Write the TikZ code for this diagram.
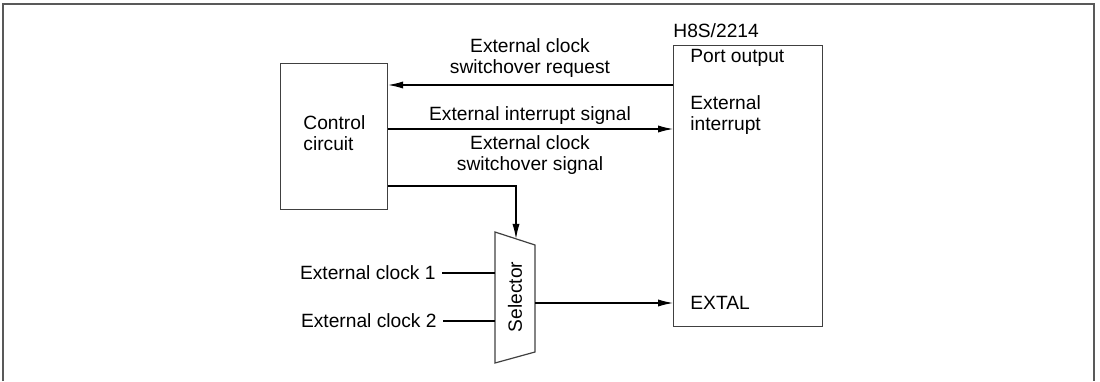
\documentclass[tikz,border=0pt]{standalone}
\usepackage{fontspec}
\setmainfont{Liberation Sans}
\usetikzlibrary{arrows.meta}
\begin{document}
\begin{tikzpicture}[x=0.5pt,y=-0.5pt,
  every node/.style={font=\fontsize{9.6pt}{10.5pt}\selectfont, inner sep=0pt},
  box/.style={draw=black!75, line width=0.6pt},
  wire/.style={line width=0.55pt},
  arr/.style={wire, -{Latex[length=7.5pt,width=3.6pt]}},
  lbl/.style={align=center}]
\useasboundingbox (0,0) rectangle (1100,381);
% frame
\draw[draw=black!65, line width=0.8pt] (3,381) -- (3,4) -- (1094,4) -- (1094,381);
% boxes
\node[box, minimum width=107*0.5pt, minimum height=146*0.5pt, anchor=north west] (ctrl) at (280,63) {};
\node[box, minimum width=149*0.5pt, minimum height=281*0.5pt, anchor=north west] (mcu) at (673,45) {};
\node[anchor=west, align=left] (ctrltxt) at (303,133) {Control\\circuit};
\node[anchor=base west] (h8s) at (673,37) {H8S/2214};
\node[anchor=base west] (port) at (690,62) {Port output};
\node[anchor=west, align=left] (extint) at (690,115) {External\\interrupt};
\node[anchor=base west] (extal) at (690,309) {EXTAL};
% selector
\coordinate (stl) at (495,232);
\coordinate (str) at (535,245);
\coordinate (sbr) at (535,352);
\coordinate (sbl) at (495,363);
\draw[box] (stl) -- (str) -- (sbr) -- (sbl) -- cycle;
\node[rotate=90] (seltxt) at (515,297) {Selector};
\coordinate (seltop) at (516,238.8);
\coordinate (selin1) at (495,273);
\coordinate (selin2) at (495,321);
\coordinate (selout) at (535,303);
% connectors
\draw[arr] (mcu.west |- 0,85) -- (ctrl.east |- 0,85);
\draw[arr] (ctrl.east |- 0,129) -- (mcu.west |- 0,129);
\draw[arr] (ctrl.east |- 0,186) -- (516,186) -- (seltop);
\draw[arr] (selout) -- (mcu.west |- selout);
\node[anchor=east] (clk1) at (436,273) {External clock 1};
\node[anchor=east] (clk2) at (437,321) {External clock 2};
\draw[wire] (clk1.east) ++(6,0) -- (selin1);
\draw[wire] (clk2.east) ++(6,0) -- (selin2);
% labels
\node[lbl] (reqtxt) at (530,58) {External clock\\switchover request};
\node[lbl] (inttxt) at (530,116) {External interrupt signal};
\node[lbl] (swtxt) at (530,155) {External clock\\switchover signal};
\end{tikzpicture}
\end{document}
